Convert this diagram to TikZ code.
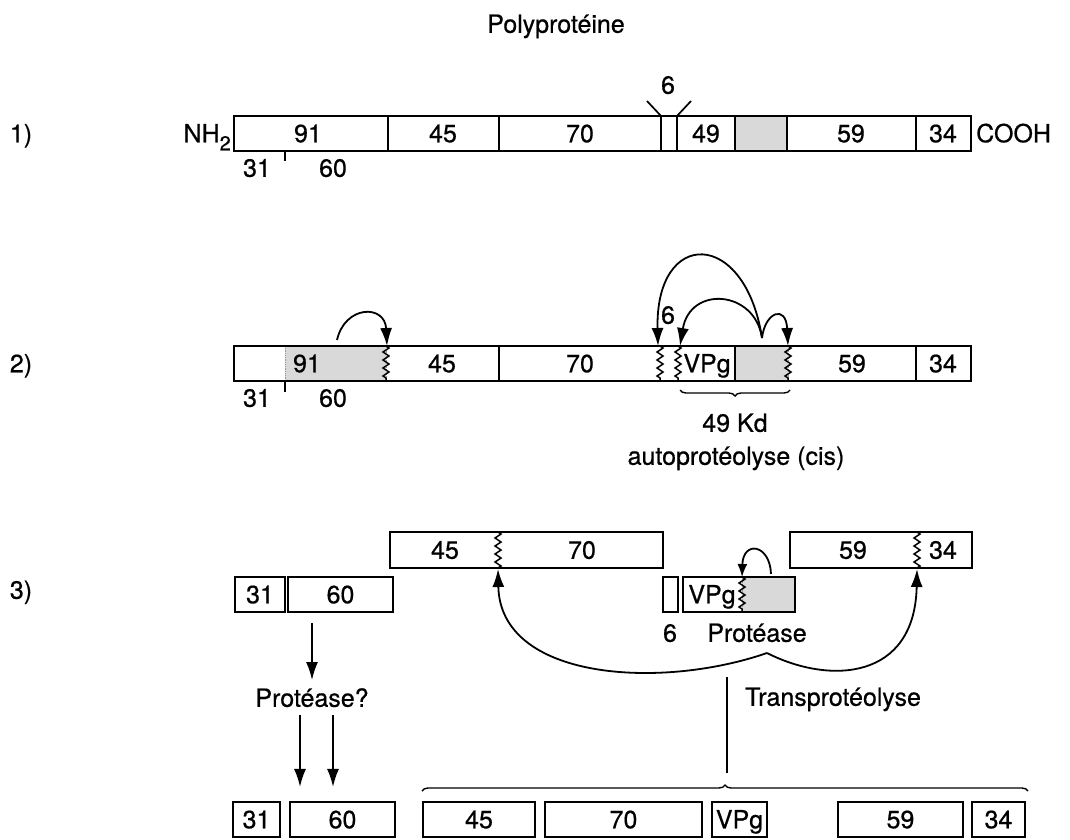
\documentclass[tikz,border=0pt]{standalone}
\usepackage{fontspec}
\setmainfont{TeX Gyre Heros}[FakeBold=0.6]
\usetikzlibrary{arrows.meta,decorations.pathmorphing,decorations.pathreplacing}

\begin{document}
\begin{tikzpicture}[x=1pt,y=-1pt,
  lab/.style={font=\fontsize{25}{28}\selectfont,inner sep=0pt,text height=17.5pt,text depth=0pt},
  frame/.style={draw,line width=1.7pt},
  heavy/.style={draw,line width=2.8pt},
  seg/.style={frame,lab,minimum height=35pt},
  cut/.style={line width=1.5pt,decorate,decoration={zigzag,segment length=8pt,amplitude=3pt}},
  dots/.style={fill=gray!30,draw=gray!80,densely dotted,line width=0.8pt},
  arr/.style={-{Latex[length=18pt,width=12pt]},line width=1.8pt},
  ubrace/.style={line width=1.4pt,decorate,decoration={brace,mirror,amplitude=6pt}},
  obrace/.style={line width=1.4pt,decorate,decoration={brace,amplitude=6pt}}]
\useasboundingbox (0,0) rectangle (1070,839);
\node[lab] (title) at (556,24) {Polyprotéine};
% row 1: the whole polyprotein
\node[lab] (n1) at (21,133.5) {1)};
\path[dots] (735,116) rectangle (787,151);
\draw[frame] (234,116) rectangle (971,151);
\foreach \x in {388,499,661,677,735,787,916}
  \draw[frame] (\x,116) -- (\x,151);
\draw[frame] (647,101) -- (661,116);
\draw[frame] (677,116) -- (691,101);
\node[lab] (six1) at (668,85) {6};
\foreach \x/\t in {308/91,443/45,580/70,706/49,851/59,943/34}
  \node[lab] (p\t) at (\x,133.5) {\t};
\node[lab,anchor=east] (nh) at (231,133.5) {NH\raisebox{-8pt}{\fontsize{20}{20}\selectfont 2}};
\node[lab,anchor=west] (cooh) at (976,133.5) {COOH};
\node[lab] (p31) at (257,168) {31};
\node[lab] (p60) at (333,168) {60};
\draw[frame] (285,151) -- (285,161);
% row 2: cis cleavages
\node[lab] (n2) at (21,363.5) {2)};
\path[dots] (285,346) rectangle (386,381);
\path[dots] (735,346) rectangle (788,381);
\draw[frame] (234,346) rectangle (971,381);
\foreach \x in {499,735,916}
  \draw[frame] (\x,346) -- (\x,381);
\foreach \x in {386,660,678,788}
  \draw[cut] (\x,346) -- (\x,381);
\foreach \x/\t in {307/91,442/45,580/70,852/59,943/34}
  \node[lab] (q\t) at (\x,363.5) {\t};
\node[lab] (qvpg) at (707,363.5) {VPg};
\node[lab] (q31) at (257,398) {31};
\node[lab] (q60) at (333,398) {60};
\draw[frame] (285,381) -- (285,392);
\node[lab] (six2) at (668,315) {6};
\coordinate (s91) at (337,340);
\coordinate (c91) at (387,346);
\coordinate (src) at (762,338);
\coordinate (c6) at (658,346);
\coordinate (cvpg) at (680,346);
\coordinate (cpro) at (788,346);
\draw[arr] (s91) .. controls (345,305) and (385,304) .. (c91);
\draw[arr] (src) .. controls (745,228) and (655,228) .. (c6);
\draw[arr] (src) .. controls (755,290) and (690,285) .. (cvpg);
\draw[arr] (src) .. controls (765,312) and (786,304) .. (cpro);
\draw[ubrace] (680,390) -- (790,390);
\node[lab] (kd) at (735,423) {49 Kd};
\node[lab] (auto) at (736,456) {autoprotéolyse (cis)};
% row 3: released fragments
\node[lab] (n3) at (21,590) {3)};
\draw[frame] (390,532) rectangle (663,568);
\draw[cut] (498,532) -- (498,568);
\node[lab] (t45) at (445,550) {45};
\node[lab] (t70) at (582,550) {70};
\draw[frame] (790,532) rectangle (972,568);
\draw[cut] (917,532) -- (917,568);
\node[lab] (t59) at (853,550) {59};
\node[lab] (t34) at (943,550) {34};
\node[seg,minimum width=50pt] (t31) at (260,594.5) {31};
\node[seg,minimum width=105pt] (t60) at (340.5,594.5) {60};
\node[frame,minimum width=15pt,minimum height=35pt,inner sep=0pt] (t6) at (670.5,594.5) {};
\path[dots] (742,577) rectangle (795,612);
\node[heavy,minimum width=112pt,minimum height=35pt,inner sep=0pt] (tvpg) at (739,594.5) {};
\draw[cut] (742,577) -- (742,612);
\node[lab] (lvpg) at (712,594.5) {VPg};
\node[lab] (l6) at (670,633) {6};
\node[lab] (lpro) at (757,633) {Protéase};
\coordinate (sp) at (771,574);
\coordinate (cp) at (742,577);
\draw[arr,-{Latex[length=13pt,width=10pt]}] (sp) .. controls (770,544) and (743,540) .. (cp);
\node[lab] (pq) at (312,698) {Protéase?};
\draw[arr] ([yshift=-10pt]t60.south -| pq.north) -- ([yshift=9pt]pq.north);
\draw[arr] ([shift={(-12,8)}]pq.south) -- ++(0,72);
\draw[arr] ([shift={(21,8)}]pq.south) -- ++(0,72);
\coordinate (cusp) at (767,653);
\coordinate (c4570) at (498,569);
\coordinate (c5934) at (917,569);
\draw[arr] (cusp) .. controls (660,690) and (500,680) .. (c4570);
\draw[arr] (cusp) .. controls (830,685) and (915,680) .. (c5934);
\node[lab,anchor=west] (trans) at (745,697) {Transprotéolyse};
\coordinate (vtop) at (727,677);
\coordinate (vbot) at (727,773);
\draw[frame] (vtop) -- (vbot);
\draw[obrace] (422,791) -- (1028,791);
% final products
\node[seg,heavy,minimum width=47pt] (f31) at (256.5,819.5) {31};
\node[seg,minimum width=105pt] (f60) at (342.5,819.5) {60};
\node[seg,minimum width=112pt] (f45) at (479,819.5) {45};
\node[seg,minimum width=157pt] (f70) at (623.5,819.5) {70};
\node[seg,heavy,minimum width=55pt] (fvpg) at (739.5,819.5) {VPg};
\node[seg,minimum width=125pt] (f59) at (900.5,819.5) {59};
\node[seg,heavy,minimum width=53pt] (f34) at (998.5,819.5) {34};
\end{tikzpicture}
\end{document}
